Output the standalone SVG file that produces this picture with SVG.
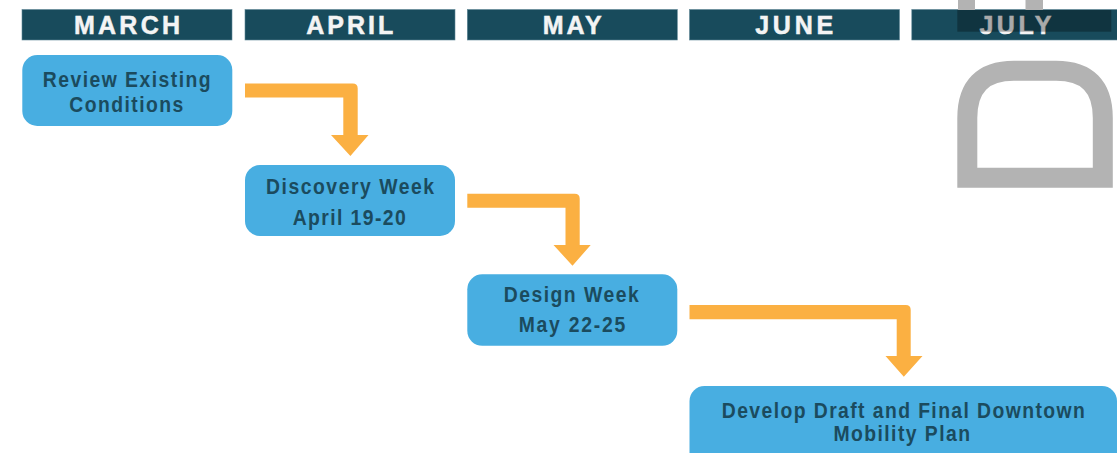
<svg xmlns="http://www.w3.org/2000/svg" width="1117" height="453" viewBox="0 0 1117 453">
<style>
.bar{fill:#184b5c;stroke:#5f8896;stroke-width:0.6}
.hdr{font-family:"Liberation Sans",Arial,sans-serif;font-weight:bold;font-size:25px;fill:#f4f4f4;stroke:#f4f4f4;stroke-width:0.5;text-anchor:middle}
.node{fill:#48aee1}
.lbl{font-family:"Liberation Sans",Arial,sans-serif;font-weight:bold;font-size:22px;fill:#1b4b5e;text-anchor:middle}
.arrow{fill:#fbb042}
.gray{fill:none;stroke:#b3b3b3;stroke-width:20}
</style>
<rect width="1117" height="453" fill="#ffffff"/>
<g id="header">
  <g id="h-march"><rect class="bar" x="22" y="9.5" width="210" height="30.5"/><text class="hdr" x="127" y="34.3" textLength="106" lengthAdjust="spacing">MARCH</text></g>
  <g id="h-april"><rect class="bar" x="245" y="9.5" width="210" height="30.5"/><text class="hdr" x="349.7" y="34.3" textLength="87" lengthAdjust="spacing">APRIL</text></g>
  <g id="h-may"><rect class="bar" x="467.3" y="9.5" width="210" height="30.5"/><text class="hdr" x="572.2" y="34.3" textLength="59" lengthAdjust="spacing">MAY</text></g>
  <g id="h-june"><rect class="bar" x="689.5" y="9.5" width="210" height="30.5"/><text class="hdr" x="794.2" y="34.3" textLength="78" lengthAdjust="spacing">JUNE</text></g>
  <g id="h-july"><rect class="bar" x="911.8" y="9.5" width="212" height="30.5"/><text class="hdr" x="1015.5" y="34.3" textLength="72" lengthAdjust="spacing">JULY</text></g>
</g>
<g id="decor">
  <rect x="958" y="0" width="17" height="10" fill="#b3b3b3"/>
  <rect x="1025.5" y="0" width="17.5" height="10" fill="#b3b3b3"/>
  <rect x="957.3" y="10" width="154" height="21.7" fill="#000000" fill-opacity="0.3"/>
  <path class="gray" d="M967.3 177.7 V118 Q967.3 70.8 1014 70.8 H1056 Q1102.8 70.8 1102.8 118 V177.7 Z"/>
</g>
<g id="connectors">
  <path class="arrow" d="M245 83.4 H352.7 Q357.7 83.4 357.7 88.4 V135 H368.5 L350.4 156 L331 135 H343.3 V97.4 H245 Z"/>
  <path class="arrow" d="M467.3 193.8 H574.7 Q579.7 193.8 579.7 198.8 V245 H590.7 L572.5 265.7 L553.5 245 H565.5 V207.8 H467.3 Z"/>
  <path class="arrow" d="M689.5 305 H905.7 Q910.7 305 910.7 310 V356 H922.5 L903.8 376.7 L885.5 356 H896.7 V319.2 H689.5 Z"/>
</g>
<g id="node-review">
  <rect class="node" x="22.3" y="55" width="210" height="71" rx="15"/>
  <g transform="translate(126.7 0) scale(0.88 1)">
    <text class="lbl" x="0" y="87.3" textLength="190.9" lengthAdjust="spacing">Review Existing</text>
  </g>
  <g transform="translate(126.3 0) scale(0.88 1)">
    <text class="lbl" x="0" y="111.7" textLength="129.5" lengthAdjust="spacing">Conditions</text>
  </g>
</g>
<g id="node-discovery">
  <rect class="node" x="245" y="165" width="210" height="71" rx="15"/>
  <g transform="translate(350 0) scale(0.88 1)">
    <text class="lbl" x="0" y="194.3" textLength="190.9" lengthAdjust="spacing">Discovery Week</text>
  </g>
  <g transform="translate(349.2 0) scale(0.88 1)">
    <text class="lbl" x="0" y="225" textLength="128.4" lengthAdjust="spacing">April 19-20</text>
  </g>
</g>
<g id="node-design">
  <rect class="node" x="467.3" y="274.3" width="210" height="71.5" rx="15"/>
  <g transform="translate(571.2 0) scale(0.88 1)">
    <text class="lbl" x="0" y="301.7" textLength="153.4" lengthAdjust="spacing">Design Week</text>
  </g>
  <g transform="translate(572 0) scale(0.88 1)">
    <text class="lbl" x="0" y="331.7" textLength="121.3" lengthAdjust="spacing">May 22-25</text>
  </g>
</g>
<g id="node-develop">
  <rect class="node" x="689.5" y="386" width="427.5" height="85" rx="15"/>
  <g transform="translate(903.3 0) scale(0.88 1)">
    <text class="lbl" x="0" y="418.3" textLength="412.5" lengthAdjust="spacing">Develop Draft and Final Downtown</text>
  </g>
  <g transform="translate(901.7 0) scale(0.88 1)">
    <text class="lbl" x="0" y="441" textLength="155.3" lengthAdjust="spacing">Mobility Plan</text>
  </g>
</g>
</svg>
